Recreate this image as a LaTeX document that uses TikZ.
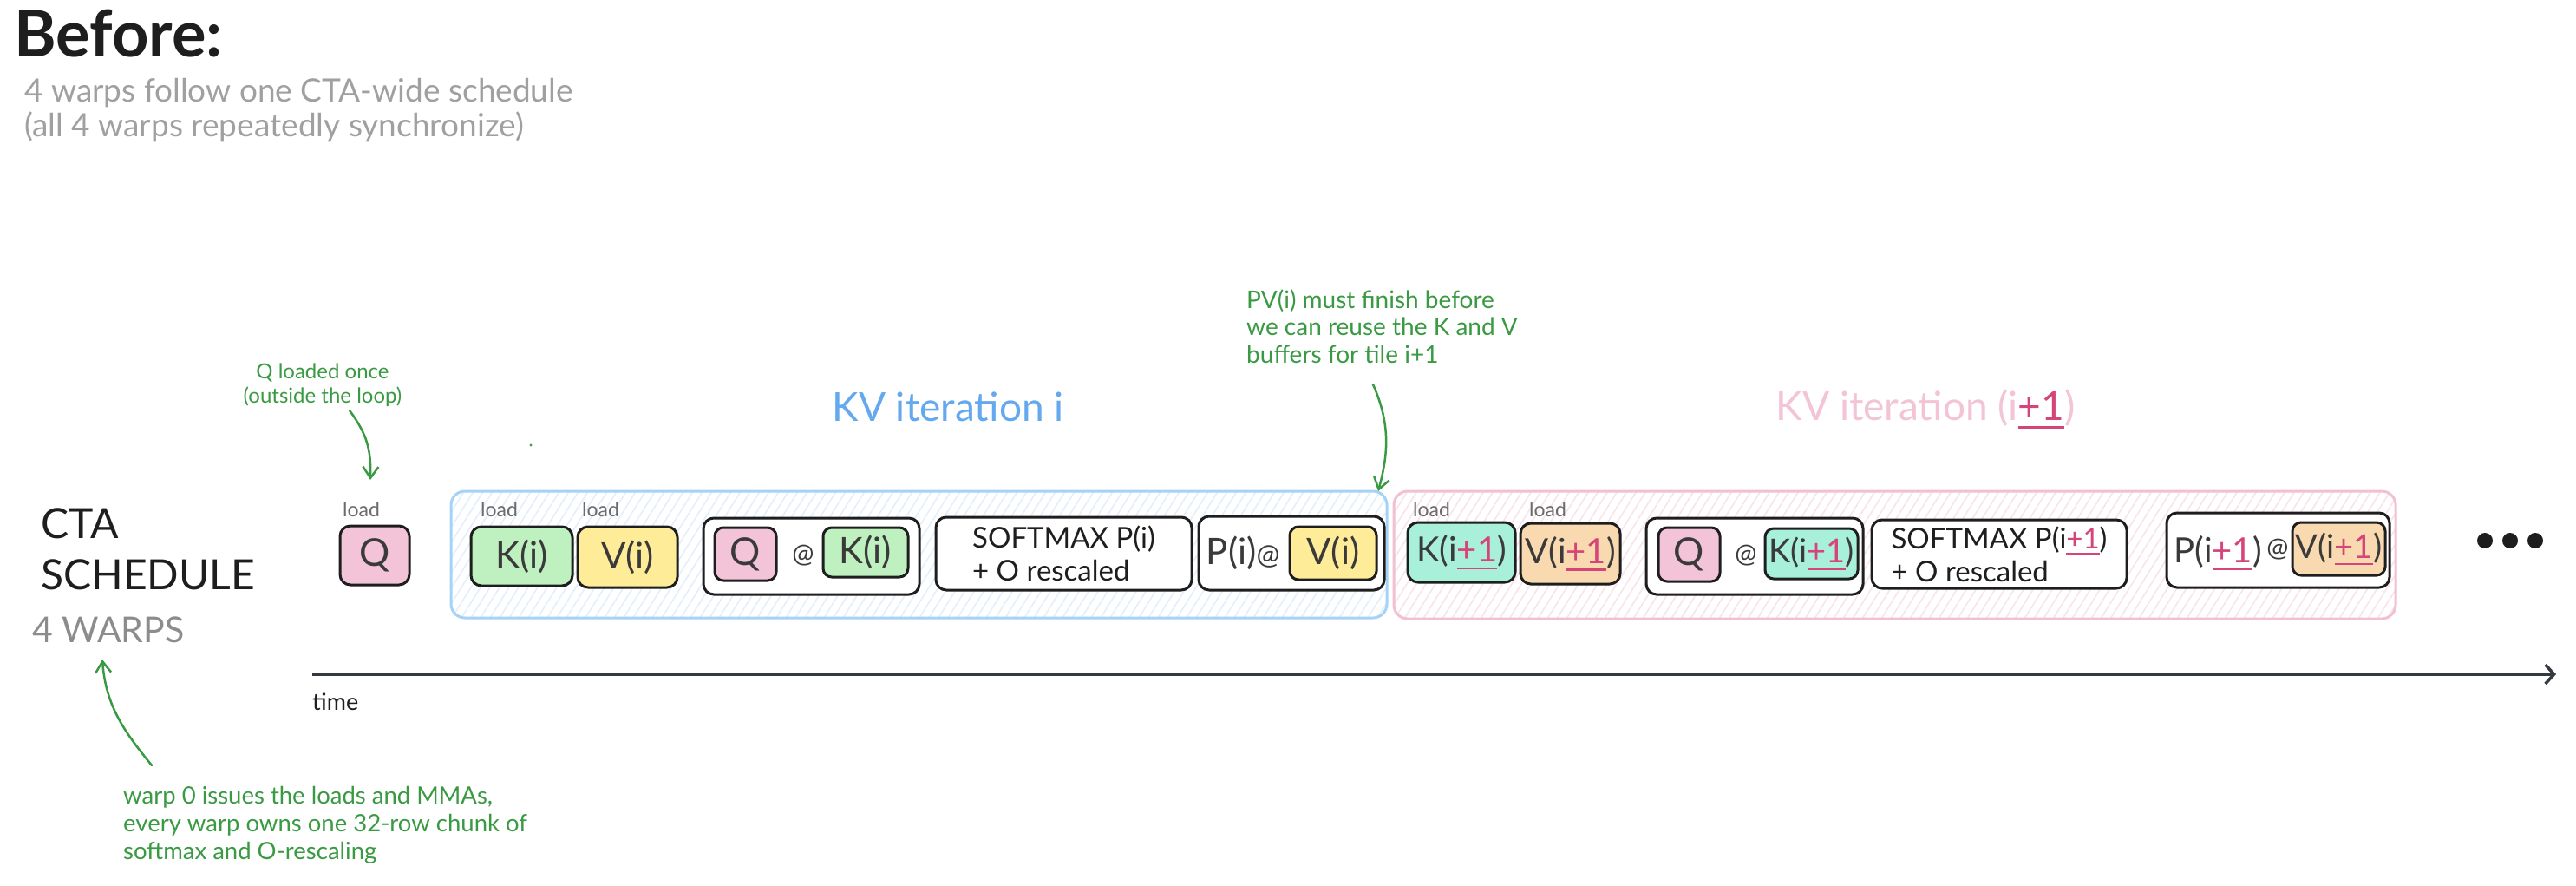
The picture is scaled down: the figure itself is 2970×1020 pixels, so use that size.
\documentclass[tikz,border=0pt]{standalone}
\usepackage{fontspec}
\setmainfont{Lato}
\usetikzlibrary{arrows.meta}
\definecolor{ink}{HTML}{1E1E1E}
\definecolor{boxtxt}{HTML}{3A3A3A}
\definecolor{subgray}{HTML}{A0A0A0}
\definecolor{warpgray}{HTML}{8C8C8C}
\definecolor{loadgray}{HTML}{6B6B6B}
\definecolor{anngreen}{HTML}{3A9A44}
\definecolor{qpink}{HTML}{F3C4D7}
\definecolor{kgreen}{HTML}{BFF0C0}
\definecolor{vyellow}{HTML}{FFEC99}
\definecolor{kteal}{HTML}{A8F0DA}
\definecolor{vorange}{HTML}{F9DAB0}
\definecolor{blueline}{HTML}{A5D3F7}
\definecolor{bluehatch}{HTML}{E3EFFC}
\definecolor{pinkline}{HTML}{F2C0D3}
\definecolor{pinkhatch}{HTML}{FAE3EB}
\definecolor{bluetxt}{HTML}{64A8EE}
\definecolor{pinktxt}{HTML}{F2C4D6}
\definecolor{hl}{HTML}{D6457A}
\definecolor{axiscol}{HTML}{343A40}
\newcommand\plusone{{\color{hl}\setbox0=\hbox{+1}\rlap{\rule[-0.22em]{\wd0}{0.07em}}\box0}}
\begin{document}
\begin{tikzpicture}[x=1pt,y=-1pt,
  blk/.style={draw=ink, line width=3pt, rounded corners=12pt, inner sep=0pt, text=boxtxt},
  inblk/.style={blk, rounded corners=10pt},
  big/.style={font=\fontsize{42}{50}\selectfont},
  bigp/.style={font=\fontsize{40}{48}\selectfont},
  bigq/.style={font=\fontsize{38}{46}\selectfont},
  qfont/.style={font=\fontsize{44}{50}\selectfont},
  atfont/.style={text=boxtxt, inner sep=0pt, font=\fontsize{30}{36}\selectfont},
  smfont/.style={align=left, text=ink, font=\fontsize{33}{38}\selectfont},
  loadlbl/.style={text=loadgray, font=\fontsize{23}{28}\selectfont, inner sep=0pt, anchor=base west},
  note/.style={text=anngreen, align=left, inner sep=0pt},
  annarrow/.style={draw=anngreen, line width=2.5pt, line cap=round, -{Straight Barb[length=13pt,width=18pt]}},
  cont/.style={line width=3pt, rounded corners=16pt, inner sep=0pt},
  hatchfill/.style={path picture={\foreach \i in {0,...,122}{\draw[#1, line width=1.6pt] ([xshift={\i*11pt-120pt}]path picture bounding box.south west) -- ++(95pt,152pt);}}}
]
\useasboundingbox (0,0) rectangle (2970,1020);
\fill[white] (0,0) rectangle (2970,1020);

% titles (multi-line nodes: base = baseline of last line)
\node[anchor=base west, inner sep=0pt, text=ink, font=\fontsize{74}{86}\selectfont\bfseries] (title) at (16,65) {Before:};
\node[anchor=base west, inner sep=0pt, align=left, text=subgray, font=\fontsize{37}{40}\selectfont] (sub) at (28,157) {4 warps follow one CTA-wide schedule\\(all 4 warps repeatedly synchronize)};
\node[anchor=base west, inner sep=0pt, align=left, text=ink, font=\fontsize{48}{59}\selectfont] (cta) at (47,679) {CTA\\SCHEDULE};
\node[anchor=base west, inner sep=0pt, text=warpgray, font=\fontsize{41}{50}\selectfont] (warps) at (37,740) {4 WARPS};

% containers
\node[cont, draw=blueline, hatchfill=bluehatch, minimum width=1079pt, minimum height=146pt] (kvi) at (1059.5,639) {};
\node[cont, draw=pinkline, hatchfill=pinkhatch, minimum width=1155pt, minimum height=147pt] (kvj) at (2184.5,639.5) {};

\node[anchor=base, inner sep=0pt, text=bluetxt, font=\fontsize{46}{55}\selectfont] (kvil) at (1093,485) {KV iteration i};
\node[anchor=base, inner sep=0pt, text=pinktxt, font=\fontsize{46}{55}\selectfont] (kvjl) at (2220,484) {KV iteration (i\plusone)};

% Q load
\node[loadlbl] (lq) at (395,595) {load};
\node[blk, fill=qpink, minimum width=80pt, minimum height=68pt, qfont] (q0) at (432,640) {Q};

% iteration i
\node[loadlbl] (lk1) at (554,595) {load};
\node[loadlbl] (lv1) at (671,595) {load};
\node[blk, fill=kgreen, minimum width=117pt, minimum height=68pt, big] (k1) at (601.5,641) {K(i)};
\node[blk, fill=vyellow, minimum width=115pt, minimum height=70pt, big] (v1) at (723.5,642) {V(i)};
\node[blk, fill=white, minimum width=249pt, minimum height=88pt] (qk1) at (935.5,641) {};
\node[inblk, fill=qpink, minimum width=71pt, minimum height=61pt, qfont] (qk1q) at (859.5,638.5) {Q};
\node[atfont] (qk1at) at (926,640) {@};
\node[inblk, fill=kgreen, minimum width=98pt, minimum height=57pt, big] (qk1k) at (998,636.5) {K(i)};
\node[blk, fill=white, minimum width=295pt, minimum height=84pt, smfont] (sm1) at (1226.5,638) {SOFTMAX P(i)\\+ O rescaled};
\node[blk, fill=white, minimum width=214pt, minimum height=85pt] (pv1) at (1489,637.5) {};
\node[text=boxtxt, inner sep=0pt, big] (pv1p) at (1433,637) {P(i){\fontsize{32}{38}\selectfont @}};
\node[inblk, fill=vyellow, minimum width=100pt, minimum height=61pt, big] (pv1v) at (1537,637.5) {V(i)};

% iteration i+1
\node[loadlbl] (lk2) at (1629,595) {load};
\node[loadlbl] (lv2) at (1763,595) {load};
\node[blk, fill=kteal, minimum width=124pt, minimum height=69pt, bigp] (k2) at (1685,636.5) {K(i\plusone)};
\node[blk, fill=vorange, minimum width=115pt, minimum height=70pt, bigp] (v2) at (1810.5,638) {V(i\plusone)};
\node[blk, fill=white, minimum width=250pt, minimum height=88pt] (qk2) at (2023,641) {};
\node[inblk, fill=qpink, minimum width=71pt, minimum height=62pt, qfont] (qk2q) at (1947.5,639) {Q};
\node[atfont] (qk2at) at (2013,640) {@};
\node[inblk, fill=kteal, minimum width=107pt, minimum height=58pt, bigq] (qk2k) at (2088.5,638) {K(i\plusone)};
\node[blk, fill=white, minimum width=294pt, minimum height=79pt, smfont] (sm2) at (2305,638.5) {SOFTMAX P(i\plusone)\\+ O rescaled};
\node[blk, fill=white, minimum width=257pt, minimum height=86pt] (pv2) at (2626.5,634) {};
\node[text=boxtxt, inner sep=0pt, bigp] (pv2p) at (2557,637) {P(i\plusone)};
\node[atfont] (pv2at) at (2626,633) {@};
\node[inblk, fill=vorange, minimum width=107pt, minimum height=61pt, bigq] (pv2v) at (2696.5,632.5) {V(i\plusone)};

% ellipsis
\node[circle, fill=ink, inner sep=0pt, minimum size=18pt] (d1) at (2865,623) {};
\node[circle, fill=ink, inner sep=0pt, minimum size=18pt] (d2) at (2894,623) {};
\node[circle, fill=ink, inner sep=0pt, minimum size=18pt] (d3) at (2923,623) {};

% time axis
\coordinate (t0) at (360,777);
\coordinate (t1) at (2947,777);
\draw[axiscol, line width=3.5pt, -{Straight Barb[length=10pt,width=22pt]}] (t0) -- (t1);
\node[anchor=base west, inner sep=0pt, text=ink, font=\fontsize{27}{32}\selectfont] (time) at (360,818) {time};

% annotations
\node[note, align=center, anchor=base, font=\fontsize{24}{28}\selectfont] (qnote) at (372,464) {Q loaded once\\(outside the loop)};
\coordinate (qa) at (403,473);
\coordinate (qb) at (427,553);
\draw[annarrow] (qa) .. controls (423,500) and (428,518) .. (qb);
\fill[anngreen!60!gray] (612,513) circle[radius=1.6pt];

\node[note, anchor=base west, font=\fontsize{28}{31.5}\selectfont] (pvnote) at (1437,418) {PV(i) must finish before\\we can reuse the K and V\\buffers for tile i+1};
\coordinate (pa) at (1583,443);
\coordinate (pb) at (1589,566);
\draw[annarrow] (pa) .. controls (1604,490) and (1600,525) .. (pb);

\node[note, anchor=base west, font=\fontsize{27.5}{32}\selectfont] (wnote) at (142,990) {warp 0 issues the loads and MMAs,\\every warp owns one 32-row chunk of\\softmax and O-rescaling};
\coordinate (wa) at (175,882);
\coordinate (wb) at (118,760);
\draw[annarrow] (wa) .. controls (145,845) and (122,815) .. (wb);
\end{tikzpicture}
\end{document}
